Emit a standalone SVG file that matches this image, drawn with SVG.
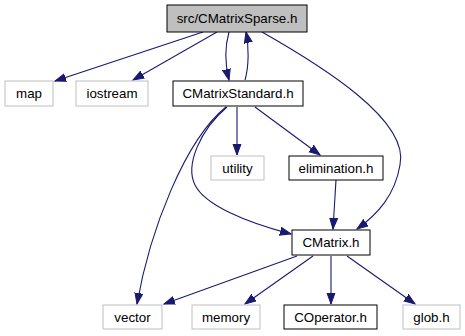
<svg xmlns="http://www.w3.org/2000/svg" width="465" height="336" viewBox="0 0 465 336">
  <style>
    .box { fill: #ffffff; stroke: #000000; stroke-width: 1; }
    .ext { fill: #ffffff; stroke: #bfbfbf; stroke-width: 1; }
    .root { fill: #bfbfbf; stroke: #000000; stroke-width: 1; }
    .lbl { font-family: "Liberation Sans", Arial, sans-serif; font-size: 13.33px; fill: #000000; text-anchor: middle; }
    .edge { fill: none; stroke: #191970; stroke-width: 1.1; marker-end: url(#arrow); }
  </style>
  <defs>
    <marker id="arrow" markerUnits="userSpaceOnUse" markerWidth="13" markerHeight="10" refX="11" refY="4.5" orient="auto">
      <path d="M0,0.5 L11,4.5 L0,8.5 z" fill="#191970" stroke="#191970" stroke-width="1"/>
    </marker>
  </defs>
  <rect width="465" height="336" fill="#ffffff"/>

  <g id="connectors">
    <path class="edge" d="M203,32 L55,81"/>
    <path class="edge" d="M217,32 L133,80"/>
    <path class="edge" d="M229,32 C225,46 225,64 229,80"/>
    <path class="edge" d="M245,80 C249,66 249,46 246,32"/>
    <path class="edge" d="M262,32 C320,65 410,120 400,165 C395,195 378,214 357,229"/>
    <path class="edge" d="M237,107 L237,155"/>
    <path class="edge" d="M255,107 L320,155"/>
    <path class="edge" d="M227,107 C200,130 185,165 195,185 C205,205 245,222 291,234"/>
    <path class="edge" d="M226,107 C185,140 150,230 137,304"/>
    <path class="edge" d="M336,180 L333,229"/>
    <path class="edge" d="M297,256 L164,304"/>
    <path class="edge" d="M313,256 L245,304"/>
    <path class="edge" d="M331,256 L331,304"/>
    <path class="edge" d="M347,256 L415,304"/>
  </g>

  <g id="node-cmatrixsparse">
    <rect class="root" x="167" y="5" width="140" height="27"/>
    <text class="lbl" x="237" y="23">src/CMatrixSparse.h</text>
  </g>
  <g id="node-map">
    <rect class="ext" x="5" y="81" width="48" height="25"/>
    <text class="lbl" x="29" y="98">map</text>
  </g>
  <g id="node-iostream">
    <rect class="ext" x="76" y="81" width="72" height="25"/>
    <text class="lbl" x="112" y="98">iostream</text>
  </g>
  <g id="node-cmatrixstandard">
    <rect class="box" x="173" y="81" width="130" height="25"/>
    <text class="lbl" x="238" y="98">CMatrixStandard.h</text>
  </g>
  <g id="node-utility">
    <rect class="ext" x="211" y="156" width="53" height="24"/>
    <text class="lbl" x="237.5" y="172.5">utility</text>
  </g>
  <g id="node-elimination">
    <rect class="box" x="289" y="156" width="94" height="24"/>
    <text class="lbl" x="336" y="172.5">elimination.h</text>
  </g>
  <g id="node-cmatrix">
    <rect class="box" x="292" y="230" width="78" height="25"/>
    <text class="lbl" x="331" y="247">CMatrix.h</text>
  </g>
  <g id="node-vector">
    <rect class="ext" x="103" y="305" width="59" height="24"/>
    <text class="lbl" x="132.5" y="321.5">vector</text>
  </g>
  <g id="node-memory">
    <rect class="ext" x="192" y="305" width="68" height="24"/>
    <text class="lbl" x="226" y="321.5">memory</text>
  </g>
  <g id="node-coperator">
    <rect class="box" x="284" y="305" width="93" height="24"/>
    <text class="lbl" x="330.5" y="321.5">COperator.h</text>
  </g>
  <g id="node-glob">
    <rect class="ext" x="403" y="305" width="57" height="24"/>
    <text class="lbl" x="431.5" y="321.5">glob.h</text>
  </g>
</svg>
